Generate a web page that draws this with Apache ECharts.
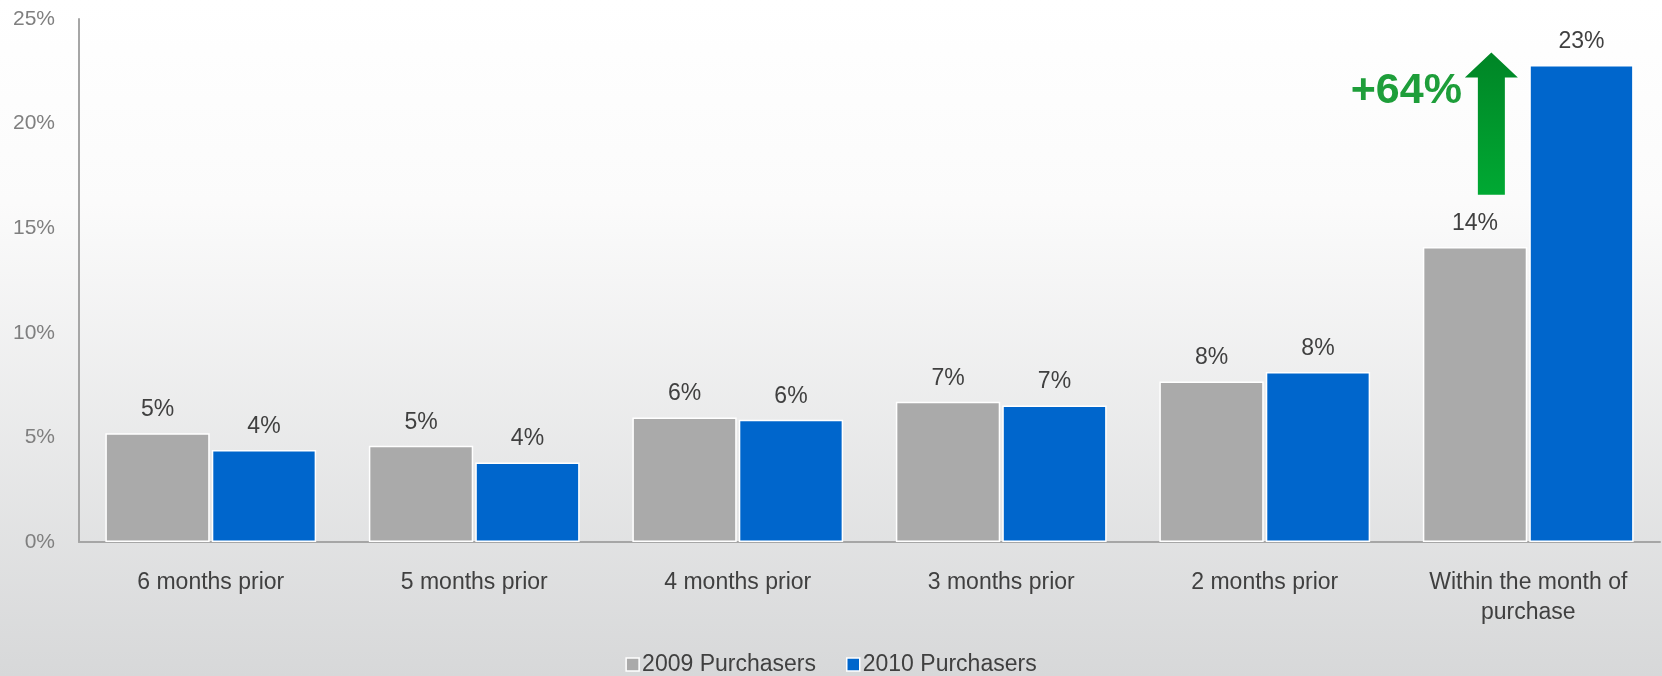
<!DOCTYPE html>
<html><head><meta charset="utf-8">
<script src="https://cdn.jsdelivr.net/npm/echarts@6/dist/echarts.min.js"></script>
<style>html,body{margin:0;padding:0;}#c{width:1662px;height:676px;}</style>
</head><body><div id="c"></div>
<script>
var categories = ['6 months prior','5 months prior','4 months prior','3 months prior','2 months prior','Within the month of\npurchase'];
var seriesNames = ['2009 Purchasers','2010 Purchasers'];
var values2009 = [5.2, 4.6, 5.95, 6.7, 7.67, 14.1];
var values2010 = [4.4, 3.8, 5.84, 6.53, 8.13, 22.8];
var yTicks = [0, 5, 10, 15, 20, 25];
var annotationText = '+64%';

var chart = echarts.init(document.getElementById('c'));
var font = 'Liberation Sans, Arial, sans-serif';
function barSeries(name, data, color){
  return {
    name: name, type: 'bar', data: data,
    barGap: '2%', barCategoryGap: '20%',
    itemStyle: {color: color, borderColor: '#ffffff', borderWidth: 1.5},
    label: {show: true, position: 'top', distance: 12, color: '#404040', fontSize: 23, fontFamily: font,
      formatter: function(p){ return Math.round(p.value) + '%'; }},
    emphasis: {disabled: true}
  };
}
chart.setOption({
  animation: false,
  backgroundColor: {type: 'linear', x: 0, y: 0, x2: 0, y2: 1, colorStops: [
    {offset: 0, color: '#ffffff'}, {offset: 0.3, color: '#fbfbfb'}, {offset: 1, color: '#d7d8d9'}]},
  grid: {left: 79, right: 2, top: 19, bottom: 134},
  legend: {
    bottom: 0, left: 'center', padding: 0, itemWidth: 13, itemHeight: 13, itemGap: 30,
    icon: 'rect',
    itemStyle: {borderColor: '#ffffff', borderWidth: 1.5},
    textStyle: {color: '#404040', fontSize: 23, fontFamily: font, padding: [0,0,0,-2]},
    data: seriesNames
  },
  xAxis: {
    type: 'category', data: categories,
    axisLine: {lineStyle: {color: '#a6a6a6', width: 2}},
    axisTick: {show: false},
    axisLabel: {color: '#404040', fontSize: 23, fontFamily: font, margin: 26, lineHeight: 30, interval: 0}
  },
  yAxis: {
    type: 'value', min: yTicks[0], max: yTicks[yTicks.length-1], interval: 5,
    axisLine: {show: true, lineStyle: {color: '#a6a6a6', width: 2}},
    axisTick: {show: false},
    splitLine: {show: false},
    axisLabel: {color: '#7f7f7f', fontSize: 21, fontFamily: font, margin: 24,
      formatter: function(v){ return v + '%'; }}
  },
  series: [barSeries(seriesNames[0], values2009, '#aaaaaa'), barSeries(seriesNames[1], values2010, '#0066cc')]
});

// annotation arrow positioned from the data scale
var last = categories.length - 1;
var cx = chart.convertToPixel({xAxisIndex: 0}, last);
var catW = chart.convertToPixel({xAxisIndex: 0}, 1) - chart.convertToPixel({xAxisIndex: 0}, 0);
var ax = cx - catW * 0.14;
var yBottom = chart.convertToPixel({yAxisIndex: 0}, 16.6);
var yHeadBase = chart.convertToPixel({yAxisIndex: 0}, 22.2);
var yTip = chart.convertToPixel({yAxisIndex: 0}, 23.4);
var shaftHalf = 13.5, headHalf = 26.5;
chart.setOption({
  graphic: [
    {type: 'polygon', silent: true,
      shape: {points: [[ax - shaftHalf, yBottom], [ax - shaftHalf, yHeadBase], [ax - headHalf, yHeadBase], [ax, yTip],
        [ax + headHalf, yHeadBase], [ax + shaftHalf, yHeadBase], [ax + shaftHalf, yBottom]]},
      style: {fill: {type: 'linear', x: 0, y: 0, x2: 0, y2: 1, colorStops: [
        {offset: 0, color: '#008526'}, {offset: 1, color: '#00a933'}]}}},
    {type: 'text', silent: true, x: ax - headHalf - 3, y: yHeadBase + 14,
      style: {text: annotationText, fill: '#1e9e3a', font: 'bold 43px ' + font, textAlign: 'right', textVerticalAlign: 'middle'}}
  ]
});
</script></body></html>
